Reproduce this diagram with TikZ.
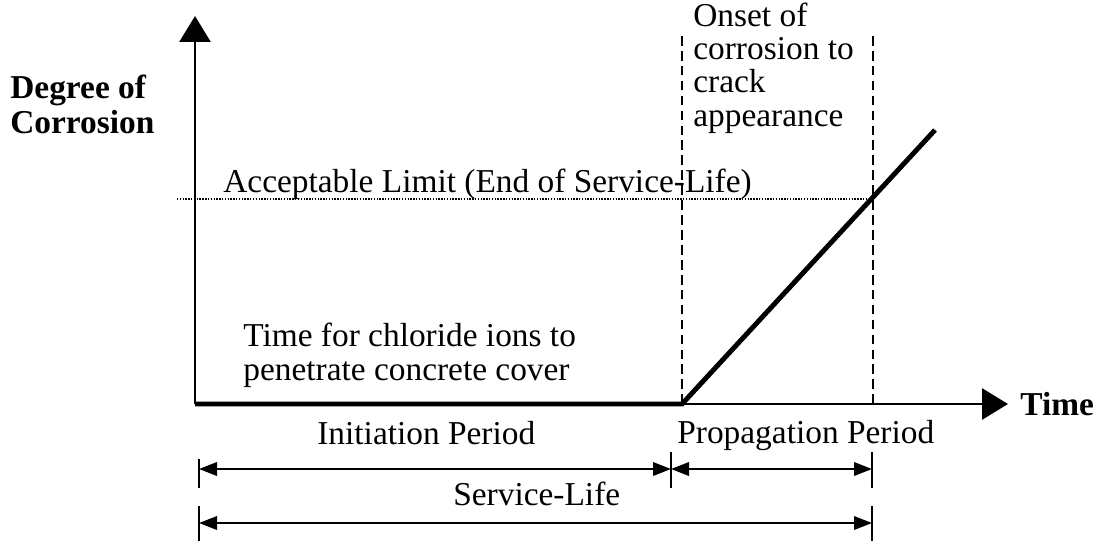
\documentclass[tikz,border=0pt]{standalone}
\usepackage{fontspec}
\setmainfont{Liberation Serif}
\usepackage{tikz}
\usetikzlibrary{arrows.meta}
\definecolor{mydark}{RGB}{0,0,0}
\tikzset{
  axisarrow/.style={-{Triangle[length=0.52cm, width=0.62cm]}, line width=1.6pt, color=mydark},
  curveline/.style={line width=2.8pt, color=mydark, line join=miter},
  guide/.style={line width=1.3pt, dash pattern=on 5.5pt off 3pt, color=mydark},
  limitline/.style={line width=0.6pt, dash pattern=on 0.8pt off 0.8pt, color=mydark},
  dimarrow/.style={{Triangle[length=0.36cm, width=0.27cm]}-{Triangle[length=0.36cm, width=0.27cm]},
    line width=1.1pt, color=mydark},
  dimtick/.style={line width=1.1pt, color=mydark},
  txt/.style={font=\fontsize{19}{18.8}\selectfont, inner sep=0pt, anchor=base west, align=left},
  boldtxt/.style={txt, font=\fontsize{19}{19.5}\selectfont\bfseries}
}

\begin{document}
\begin{tikzpicture}[x=0.02cm, y=-0.02cm]
  \useasboundingbox (0,0) rectangle (1097,541);

  % Axes
  \coordinate (origin) at (195,404);
  \coordinate (ytop) at (195,16);
  \coordinate (xend) at (1008,404);
  \draw[axisarrow] (origin) -- (ytop);
  \draw[axisarrow] (origin) -- (xend);
  \node[boldtxt] (ylab) at (10,133) {Degree of\\Corrosion};
  \node[boldtxt] (xlab) at (1020,415) {Time};

  % Acceptable limit
  \coordinate (limL) at (177,199);
  \coordinate (limR) at (873,199);
  \draw[limitline] (limL) -- (limR);
  \node[txt] (limtxt) at (223,192) {Acceptable Limit (End of Service-Life)};

  % Period boundaries
  \coordinate (onset) at (682,404);
  \coordinate (onsettop) at (682,32);
  \coordinate (crack) at (873,404);
  \coordinate (cracktop) at (873,32);
  \draw[guide] (onset) -- (onsettop);
  \draw[guide] (crack) -- (cracktop);
  \node[txt] (onsettxt) at (693,126) {Onset of\\corrosion to\\crack\\appearance};

  % Corrosion curve
  \coordinate (curveend) at (935,130);
  \draw[curveline] (origin) -- (onset) -- (curveend);
  \node[txt] (inittxt) at (243,380) {Time for chloride ions to\\penetrate concrete cover};

  % Periods
  \node[txt] (initlab) at (317,444) {Initiation Period};
  \node[txt] (proplab) at (677,443) {Propagation Period};
  \node[txt] (lifelab) at (453,505) {Service-Life};

  \coordinate (r1a) at (199,469);
  \coordinate (r1b) at (671,469);
  \coordinate (r1c) at (872,469);
  \coordinate (r2a) at (199,523);
  \coordinate (r2b) at (872,523);
  \draw[dimarrow] (r1a) -- (r1b);
  \draw[dimarrow] (r1b) -- (r1c);
  \draw[dimarrow] (r2a) -- (r2b);
  \draw[dimtick] (199,459) -- (199,488);
  \draw[dimtick] (671,452) -- (671,488);
  \draw[dimtick] (872,452) -- (872,488);
  \draw[dimtick] (199,506) -- (199,541);
  \draw[dimtick] (872,506) -- (872,541);
\end{tikzpicture}
\end{document}
